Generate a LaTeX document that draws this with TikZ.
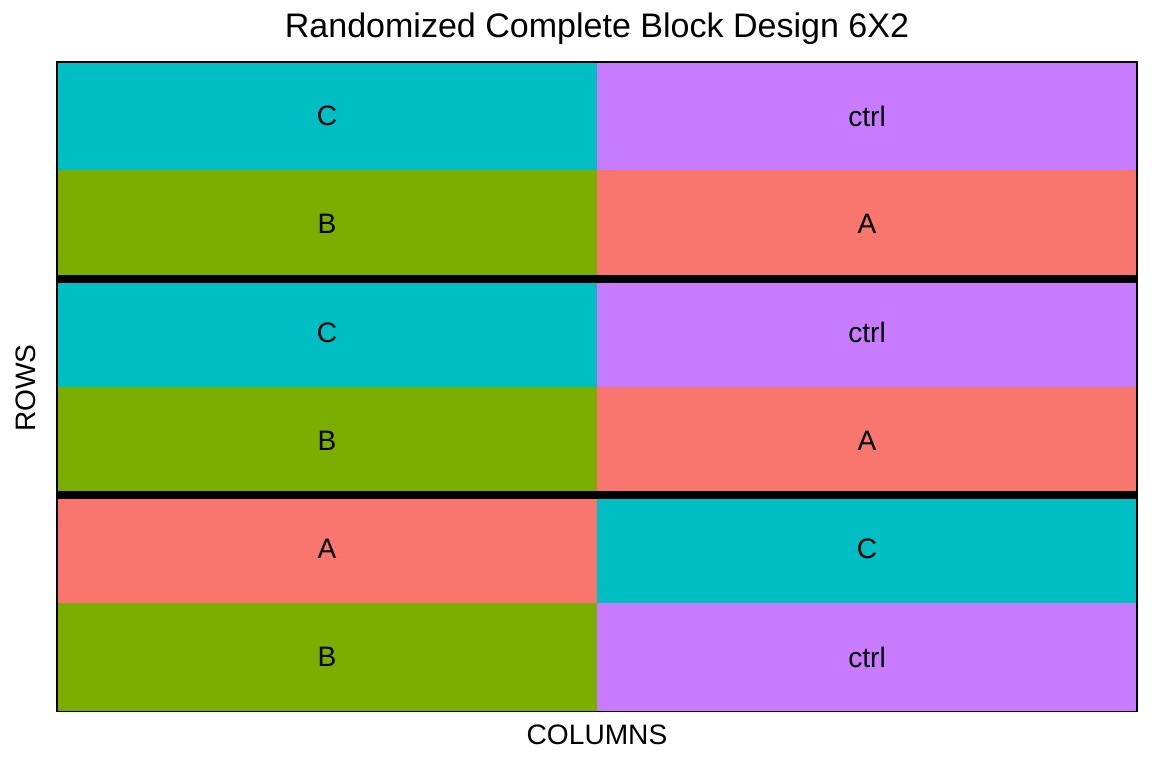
\documentclass[tikz,border=0pt]{standalone}
\usepackage{fontspec}
\setmainfont{Liberation Sans}
\usepackage{xcolor}
\usepackage{tikz}
\usetikzlibrary{positioning, fit, calc}
\definecolor{trtA}{HTML}{F8766D}
\definecolor{trtB}{HTML}{7CAE00}
\definecolor{trtC}{HTML}{00BFC4}
\definecolor{trtctrl}{HTML}{C77CFF}

\begin{document}
\begin{tikzpicture}[
    x=0.025cm, y=-0.025cm,
    plotcell/.style={rectangle, draw=none, fill=#1, minimum width=13.5cm,
                     minimum height=2.705cm, inner sep=0pt,
                     font=\fontsize{20}{24}\selectfont},
    plotcell/.default=trtA,
    axislabel/.style={font=\fontsize{20}{24}\selectfont, inner sep=0pt},
    blockline/.style={line width=5.7pt, black},
    panelbox/.style={draw=black, line width=1.4pt, inner sep=0pt}
]
\useasboundingbox (0,0) rectangle (1152,768);

% Title
\node[font=\fontsize{24.2}{28}\selectfont, inner sep=0pt, anchor=base] (title) at (597,38)
    {Randomized Complete Block Design 6X2};

% Block 1
\node[plotcell=trtC] (r1c1) at (327,116.1) {C};
\node[plotcell=trtctrl] (r1c2) at (867,116.1) {ctrl};
\node[plotcell=trtB] (r2c1) at (327,224.3) {B};
\node[plotcell=trtA] (r2c2) at (867,224.3) {A};

% Block 2
\node[plotcell=trtC] (r3c1) at (327,332.5) {C};
\node[plotcell=trtctrl] (r3c2) at (867,332.5) {ctrl};
\node[plotcell=trtB] (r4c1) at (327,440.7) {B};
\node[plotcell=trtA] (r4c2) at (867,440.7) {A};

% Block 3
\node[plotcell=trtA] (r5c1) at (327,548.9) {A};
\node[plotcell=trtC] (r5c2) at (867,548.9) {C};
\node[plotcell=trtB] (r6c1) at (327,657.1) {B};
\node[plotcell=trtctrl] (r6c2) at (867,657.1) {ctrl};

% Panel border and block separators
\node[panelbox, fit=(r1c1) (r6c2)] (panel) {};
\draw[blockline] (r2c1.south west) -- (r2c2.south east);
\draw[blockline] (r4c1.south west) -- (r4c2.south east);

% Axis titles
\node[axislabel, rotate=90, anchor=base] (rowslab) at (35,388) {ROWS};
\node[axislabel, anchor=base] (colslab) at (597,744) {COLUMNS};

\end{tikzpicture}
\end{document}
